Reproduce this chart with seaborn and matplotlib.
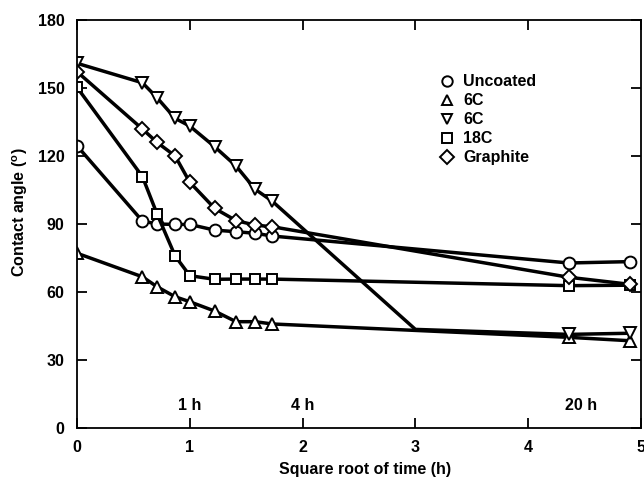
import matplotlib
matplotlib.use("Agg")
import matplotlib.pyplot as plt
from matplotlib.lines import Line2D
import seaborn as sns

# Data (x = square root of time in hours)
x_time = [0, 0.58, 0.71, 0.87, 1.0, 1.22, 1.41, 1.58, 1.73, 4.36, 4.9]
uncoated = [124.5, 91.3, 90.0, 89.8, 89.8, 87.3, 86.6, 85.9, 84.7, 72.8, 73.4]
c6_up = [77.1, 66.7, 62.3, 57.9, 55.7, 51.6, 46.9, 46.9, 45.9, 40.0, 38.5]
c18 = [150.3, 110.9, 94.4, 75.9, 67.2, 65.6, 65.7, 65.7, 65.7, 62.8, 63.0]
graphite = [157.2, 131.9, 126.0, 120.0, 108.4, 96.9, 91.5, 89.5, 88.8, 66.5, 63.4]
# second 6C series has a kink at x=3 with no marker
x_down = [0, 0.58, 0.71, 0.87, 1.0, 1.22, 1.41, 1.58, 1.73, 3.0, 4.36, 4.9]
c6_down = [160.9, 152.3, 145.7, 136.6, 133.2, 124.1, 115.6, 105.3, 100.1, 43.5, 41.3, 41.8]
marked_down = [0, 1, 2, 3, 4, 5, 6, 7, 8, 10, 11]

labels = ["Uncoated", "6C", "6C", "18C", "Graphite"]
markers = ["o", "^", "v", "s", "D"]
hour_marks = [1.0, 2.0, 4.47]
hour_labels = ["1 h", "4 h", "20 h"]

sns.set_style("ticks")
plt.rcParams["font.family"] = ["Liberation Sans", "DejaVu Sans"]
plt.rcParams["font.weight"] = "bold"
plt.rcParams["text.color"] = "black"
plt.rcParams["axes.labelcolor"] = "black"
plt.rcParams["mathtext.fontset"] = "custom"
plt.rcParams["mathtext.rm"] = "Liberation Sans:bold"
plt.rcParams["mathtext.bf"] = "Liberation Sans:bold"

fig = plt.figure(figsize=(6.44, 4.78), dpi=100)
ax = fig.add_axes([77 / 644, 1 - 428 / 478, 564 / 644, 408 / 478])

style = dict(color="black", linewidth=2.5, markerfacecolor="white",
             markeredgecolor="black", markeredgewidth=1.4)
sizes = [8.5, 8, 8, 7.5, 7.5]

series = [(x_time, uncoated), (x_time, c6_up), (x_down, c6_down),
          (x_time, c18), (x_time, graphite)]
for (xs, ys), m, ms in zip(series, markers, sizes):
    extra = {"markevery": marked_down} if xs is x_down else {}
    sns.lineplot(x=xs, y=ys, marker=m, markersize=ms, ax=ax, **style, **extra)

ax.set_xlim(0, 5)
ax.set_ylim(0, 180)
ax.set_xticks([0, 1, 2, 3, 4, 5])
ax.set_yticks([0, 30, 60, 90, 120, 150, 180])
ax.tick_params(direction="in", length=7, width=1.3, top=True, right=True,
               labelsize=11.5, pad=9, colors="black")
for lab in ax.get_xticklabels() + ax.get_yticklabels():
    lab.set_fontweight("bold")
for sp in ax.spines.values():
    sp.set_linewidth(1.3)
    sp.set_color("black")

ax.set_xlabel("Square root of time (h)", fontsize=11.5, fontweight="bold")
ax.set_ylabel(r"Contact angle ($^{\mathbf{o}}$)", fontsize=11.5, fontweight="bold")
ax.xaxis.set_label_coords(0.51, -0.083)
ax.yaxis.set_label_coords(-0.083, 0.53)

for xm, txt in zip(hour_marks, hour_labels):
    ax.text(xm, 10, txt, ha="center", va="center", fontsize=11.5, fontweight="bold")

handles = [Line2D([], [], linestyle="none", marker=m, markersize=7.5,
                  markerfacecolor="white", markeredgecolor="black",
                  markeredgewidth=1.4) for m in markers]
ax.legend(handles, labels, loc="upper left", bbox_to_anchor=(0.62, 0.902),
          frameon=False, handlelength=0.8, handletextpad=0.6,
          labelspacing=0.25, prop={"size": 11.5, "weight": "bold"})

fig.savefig("out.png", dpi=100)
